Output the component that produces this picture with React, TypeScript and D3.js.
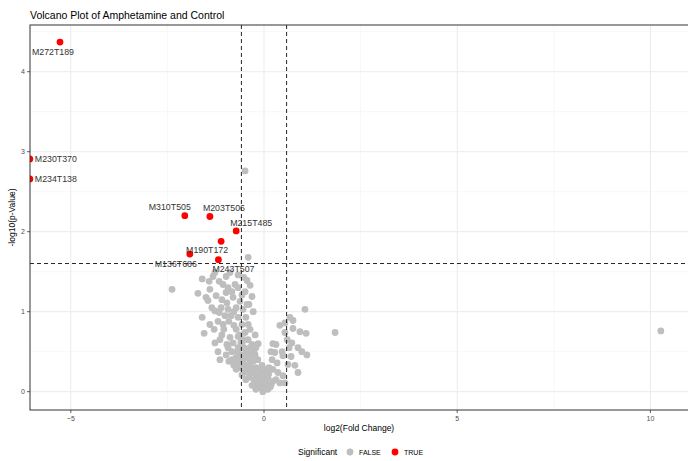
import React from "react";
import * as d3 from "d3";

// Significant features (log2 fold change, -log10 p)
const sigNames = ["M272T189", "M230T370", "M234T138", "M310T505", "M203T506", "M215T485", "M190T172", "M136T686", "M243T507"];
const sigLog2FC = [-5.28, -6.06, -6.06, -2.05, -1.4, -0.72, -1.11, -1.92, -1.18];
const sigNegLogP = [4.37, 2.91, 2.66, 2.2, 2.19, 2.01, 1.88, 1.72, 1.65];

// Non-significant features
const nsLog2FC = [
  -0.49, -0.41, -2.38, 10.27, 1.84, 1.06,
  -1.27, -1.6, -1.42, -1.32, -1.16, -1.06, -0.93, -0.88, -0.98, -0.67, -0.52, -0.75, -0.67, -0.83,
  -0.49, -0.44, -0.36, -0.31, -1.71, -1.5, -1.45, -1.35, -1.27, -1.16, -1.6, -1.09, -0.96, -0.8,
  -0.62, -0.72, -0.54, -1.01, -0.85, -0.67, -0.47, -1.19, -1.06, -0.91, -0.78, -0.57, -1.55, -1.27,
  -1.19, -1.14, -1.09, -0.93, -0.8, -0.67, -0.49, -0.36, -0.98, -0.83, -0.67, -0.57, -0.41, -0.31,
  -0.72, -0.6, -0.47, -0.36, -0.91, -0.54, -0.41, -0.28, -0.62, -0.49, -0.34, -0.21, -0.39, -0.26,
  -0.16, -0.18, -0.08, -0.03, 0.05, -0.1, -0.23, -0.23, -0.41, -0.28, -0.39, -0.57, -0.98, -1.24,
  -1.4, -1.14, -0.72, -0.88, -0.52, -0.78, -0.16, -0.13, -0.31, -0.05,
  0.54, 0.75, 0.75, 0.93, 1.09, 0.54, 0.6, 0.72, 0.23, 0.28, 0.47, 0.49, 0.7, 0.88, 0.98, 1.11,
  0.88, 0.34, 0.23, 0.36, 0.49, 0.23, 0.16, 0.54, 0.41, 0.1, 0.21, 0.31, 0.62, 0.8, 0.13, 0.31,
  0.08, 0.67, 0.41, 0.65, 0.18,
  -0.62, -0.52, -0.36, -0.44, -0.31, -0.21, -0.65, -0.52, -0.36, -0.26, -0.18, -0.1, 0.03, 0.1,
  -0.05, 0.0, 0.08, -0.21, -0.47, -0.57, -0.72, -0.83, -0.96, -1.04, -1.4, -1.29, -1.11, -0.93,
  -0.78, -0.44,
  -0.13, -0.08, 0.02, 0.12, -0.3, -0.42, -0.55, -0.68, -0.6, -0.25, -0.15, 0.06, 0.18, -0.7,
];
const nsNegLogP = [
  2.76, 1.68, 1.28, 0.76, 0.74, 1.03,
  1.49, 1.41, 1.38, 1.44, 1.38, 1.34, 1.3, 1.49, 1.44, 1.46, 1.43, 1.34, 1.3, 1.25,
  1.25, 1.39, 1.33, 1.19, 1.23, 1.18, 1.14, 1.05, 1.01, 0.99, 0.93, 1.15, 1.11, 1.18,
  1.13, 1.05, 1.03, 0.95, 0.95, 0.93, 0.93, 0.88, 0.84, 0.88, 0.83, 0.84, 0.73, 0.61,
  0.5, 0.4, 0.71, 0.55, 0.61, 0.69, 0.74, 0.78, 0.46, 0.5, 0.55, 0.61, 0.65, 0.59,
  0.43, 0.46, 0.5, 0.45, 0.38, 0.38, 0.33, 0.38, 0.3, 0.25, 0.25, 0.3, 0.18, 0.15,
  0.2, 0.1, 0.05, 0.0, 0.04, 0.15, 0.46, 0.71, 0.84, 1.0, 1.09, 1.21, 1.24, 1.2,
  1.28, 0.65, 0.78, 0.68, 0.55, 0.33, 0.4, 0.28, 0.08, 0.2,
  0.86, 0.89, 0.79, 0.75, 0.73, 0.74, 0.65, 0.61, 0.6, 0.49, 0.5, 0.45, 0.44, 0.55, 0.5, 0.46,
  0.24, 0.36, 0.28, 0.24, 0.2, 0.13, 0.06, 0.11, 0.11, 0.18, 0.4, 0.59, 0.34, 0.33, 0.3, 0.15,
  0.11, 0.93, 0.83, 0.55, 0.5,
  0.71, 0.65, 0.55, 0.43, 0.5, 0.55, 0.43, 0.33, 0.38, 0.23, 0.18, 0.1, 0.09, 0.03,
  0.33, 0.25, 0.2, 0.03, 0.15, 0.21, 0.28, 0.4, 0.59, 0.78, 0.84, 0.78, 1.05, 1.03,
  1.0, 1.09,
  0.13, 0.22, 0.14, 0.22, 0.3, 0.27, 0.4, 0.5, 0.62, 0.48, 0.6, 0.28, 0.08, 0.36,
];

const xTicks = [-5, 0, 5, 10];
const xMinor = [-2.5, 2.5, 7.5];
const yTicks = [0, 1, 2, 3, 4];
const yMinor = [0.5, 1.5, 2.5, 3.5, 4.5];

const fcCut = Math.log2(1.5);
const pCut = -Math.log10(0.025);

// label placement relative to each point: [dx, dy, anchor]
const labelLayout: Record<string, [number, number, string]> = {
  M272T189: [-7, 9.5, "middle"],
  M230T370: [5, 0, "start"],
  M234T138: [5, 0, "start"],
  M310T505: [-15, -8.5, "middle"],
  M203T506: [14, -9, "middle"],
  M215T485: [15, -8, "middle"],
  M190T172: [-14, 9, "middle"],
  M136T686: [-14, 9.5, "middle"],
  M243T507: [15, 9, "middle"],
};

const W = 688;
const H = 461;
const left = 30;
const right = 688;
const top = 25;
const bottom = 410;
const font = "'Liberation Sans', Arial, Helvetica, sans-serif";

export default function App() {
  const x = d3.scaleLinear().domain([-6.056, 10.973]).range([left, right]);
  const y = d3.scaleLinear().domain([-0.229, 4.584]).range([bottom, top]);

  const ns = nsLog2FC.map((v, i) => ({ fc: v, p: nsNegLogP[i] }));
  const sig = sigNames.map((n, i) => ({ name: n, fc: sigLog2FC[i], p: sigNegLogP[i] }));
  const r = 3.4;

  return (
    <svg width={W} height={H} style={{ position: "fixed", left: 0, top: 0, background: "#fff" }}>
      <defs>
        <clipPath id="panel">
          <rect x={left} y={top} width={right - left} height={bottom - top} />
        </clipPath>
      </defs>
      <rect x={0} y={0} width={W} height={H} fill="#fff" />
      <text x={30} y={19} fontFamily={font} fontSize={10.5} fill="#000">
        Volcano Plot of Amphetamine and Control
      </text>

      {/* grid */}
      <g>
        {xMinor.map((t) => (
          <line key={"xm" + t} x1={x(t)} x2={x(t)} y1={top} y2={bottom} stroke="#F2F2F2" strokeWidth={0.6} />
        ))}
        {yMinor.map((t) => (
          <line key={"ym" + t} x1={left} x2={right} y1={y(t)} y2={y(t)} stroke="#F2F2F2" strokeWidth={0.6} />
        ))}
        {xTicks.map((t) => (
          <line key={"xg" + t} x1={x(t)} x2={x(t)} y1={top} y2={bottom} stroke="#EBEBEB" strokeWidth={1} />
        ))}
        {yTicks.map((t) => (
          <line key={"yg" + t} x1={left} x2={right} y1={y(t)} y2={y(t)} stroke="#EBEBEB" strokeWidth={1} />
        ))}
      </g>

      {/* points */}
      <g clipPath="url(#panel)">
        {ns.map((d, i) => (
          <circle key={"n" + i} cx={x(d.fc)} cy={y(d.p)} r={r} fill="#BEBEBE" />
        ))}
        {sig.map((d) => (
          <circle key={d.name} cx={x(d.fc)} cy={y(d.p)} r={r} fill="#FF0000" />
        ))}
      </g>

      {/* threshold lines */}
      <g stroke="#000" strokeWidth={1} strokeDasharray="4,3" opacity={0.85}>
        <line x1={x(-fcCut)} x2={x(-fcCut)} y1={top} y2={bottom} />
        <line x1={x(fcCut)} x2={x(fcCut)} y1={top} y2={bottom} />
        <line x1={left} x2={right} y1={y(pCut)} y2={y(pCut)} />
      </g>

      {/* labels */}
      <g fontFamily={font} fontSize={8.8} fill="#333">
        {sig.map((d) => {
          const [dx, dy, anchor] = labelLayout[d.name];
          return (
            <text key={"l" + d.name} x={x(d.fc) + dx} y={y(d.p) + dy} textAnchor={anchor} dominantBaseline="central">
              {d.name}
            </text>
          );
        })}
      </g>

      {/* panel border (right side runs past the canvas edge) */}
      <rect x={left} y={top} width={right - left + 4} height={bottom - top} fill="none" stroke="#333" strokeWidth={1} />

      {/* axes */}
      <g fontFamily={font} fontSize={7} fill="#4D4D4D">
        {xTicks.map((t) => (
          <g key={"xt" + t}>
            <line x1={x(t)} x2={x(t)} y1={bottom} y2={bottom + 3} stroke="#333" strokeWidth={0.8} />
            <text x={x(t)} y={bottom + 6} textAnchor="middle" dominantBaseline="hanging">
              {t < 0 ? "\u2212" + Math.abs(t) : t}
            </text>
          </g>
        ))}
        {yTicks.map((t) => (
          <g key={"yt" + t}>
            <line x1={left - 3} x2={left} y1={y(t)} y2={y(t)} stroke="#333" strokeWidth={0.8} />
            <text x={left - 5} y={y(t)} textAnchor="end" dominantBaseline="central">
              {t}
            </text>
          </g>
        ))}
      </g>
      <text x={(left + right) / 2} y={431} textAnchor="middle" fontFamily={font} fontSize={8.5} fill="#000">
        log2(Fold Change)
      </text>
      <text
        transform={`translate(15,${(top + bottom) / 2}) rotate(-90)`}
        textAnchor="middle"
        fontFamily={font}
        fontSize={8.5}
        fill="#000"
      >
        -log10(p-Value)
      </text>

      {/* legend */}
      <g fontFamily={font}>
        <text x={298} y={452} fontSize={8.5} dominantBaseline="central" fill="#000">
          Significant
        </text>
        <circle cx={350} cy={452} r={r} fill="#BEBEBE" />
        <text x={359} y={452} fontSize={7} dominantBaseline="central" fill="#000">
          FALSE
        </text>
        <circle cx={395} cy={452} r={r} fill="#FF0000" />
        <text x={404} y={452} fontSize={7} dominantBaseline="central" fill="#000">
          TRUE
        </text>
      </g>
    </svg>
  );
}
